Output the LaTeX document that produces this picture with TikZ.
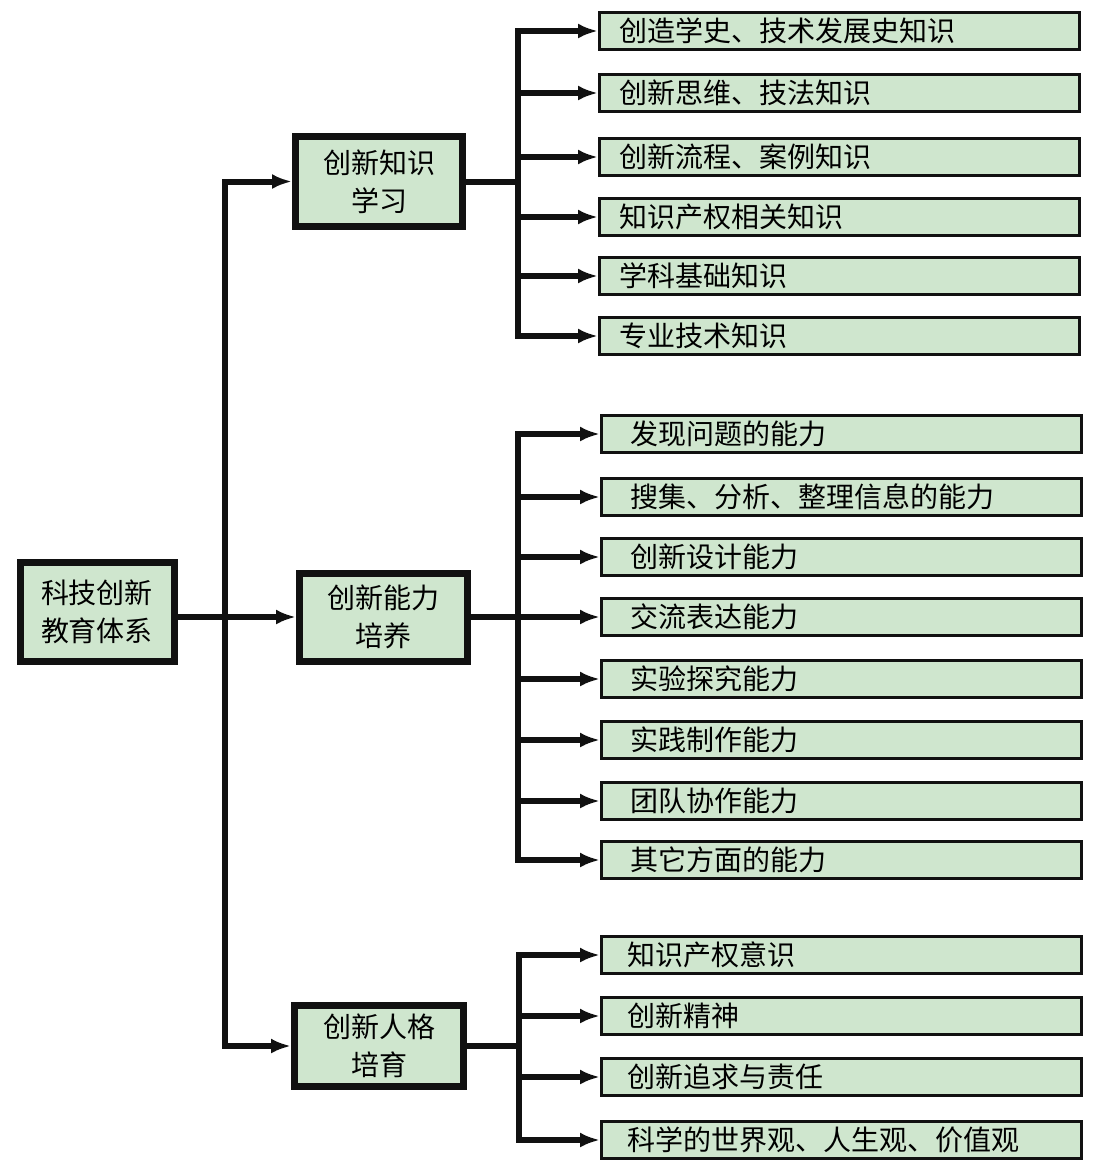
\documentclass[tikz,border=0pt]{standalone}
\usepackage{fontspec}
\newfontfamily\cjk{Noto Sans CJK SC}
\usetikzlibrary{arrows.meta}
\definecolor{boxgreen}{HTML}{CFE6CE}
\definecolor{linek}{HTML}{111111}
\tikzset{
  x=1pt, y=-1pt,
  bigbox/.style={draw=linek, line width=7pt, fill=boxgreen, inner sep=0pt, align=center,
    font=\cjk\fontsize{28}{38}\selectfont},
  leafbox/.style={draw=linek, line width=2.5pt, fill=boxgreen, anchor=west, minimum height=37pt,
    inner ysep=0pt, inner xsep=#1, text width=480pt-2*#1, align=left,
    font=\cjk\fontsize{28}{32}\selectfont},
  leafbox/.default=20pt,
  conn/.style={draw=linek, line width=6pt, line join=miter},
  arr/.style={conn, -{Latex[length=20pt,width=15pt]}},
}
\begin{document}
\begin{tikzpicture}
\useasboundingbox (0,0) rectangle (1098,1176);
% root and middle level
\node[bigbox, minimum width=154pt, minimum height=99pt] (root) at (97,611.5) {科技创新\\教育体系};
\node[bigbox, minimum width=167pt, minimum height=90pt] (m1) at (379,181.5) {创新知识\\学习};
\node[bigbox, minimum width=168pt, minimum height=88pt] (m2) at (383.5,617) {创新能力\\培养};
\node[bigbox, minimum width=169pt, minimum height=81pt] (m3) at (379,1046) {创新人格\\培育};

% group 1 leaves
\node[leafbox] (a1) at (598,31) {创造学史、技术发展史知识};
\node[leafbox] (a2) at (598,93) {创新思维、技法知识};
\node[leafbox] (a3) at (598,157) {创新流程、案例知识};
\node[leafbox] (a4) at (598,217) {知识产权相关知识};
\node[leafbox] (a5) at (598,276) {学科基础知识};
\node[leafbox] (a6) at (598,336) {专业技术知识};

% group 2 leaves
\node[leafbox=29pt] (b1) at (600,434) {发现问题的能力};
\node[leafbox=29pt] (b2) at (600,497) {搜集、分析、整理信息的能力};
\node[leafbox=29pt] (b3) at (600,557) {创新设计能力};
\node[leafbox=29pt] (b4) at (600,617) {交流表达能力};
\node[leafbox=29pt] (b5) at (600,679) {实验探究能力};
\node[leafbox=29pt] (b6) at (600,740) {实践制作能力};
\node[leafbox=29pt] (b7) at (600,801) {团队协作能力};
\node[leafbox=29pt] (b8) at (600,860) {其它方面的能力};

% group 3 leaves
\node[leafbox=26pt] (c1) at (600,955) {知识产权意识};
\node[leafbox=26pt] (c2) at (600,1016) {创新精神};
\node[leafbox=26pt] (c3) at (600,1077) {创新追求与责任};
\node[leafbox=26pt] (c4) at (600,1140) {科学的世界观、人生观、价值观};

% main trunk
\coordinate (T) at (225,617);
\draw[arr] (root.east |- m2.west) -- (m2.west);
\draw[arr] (T) |- (m1.west);
\draw[arr] (T) |- (m3.west);

% group trunks
\coordinate (J1) at (518,181.5);
\coordinate (J2) at (518,617);
\coordinate (J3) at (519,1046);
\draw[conn] (m1.east) -- (J1);
\draw[conn] (m2.east) -- (J2);
\draw[conn] (m3.east) -- (J3);
\foreach \n in {a1,a2,a3,a4,a5,a6} \draw[arr] (J1) |- (\n.west);
\foreach \n in {b1,b2,b3,b4,b5,b6,b7,b8} \draw[arr] (J2) |- (\n.west);
\foreach \n in {c1,c2,c3,c4} \draw[arr] (J3) |- (\n.west);
\end{tikzpicture}
\end{document}
